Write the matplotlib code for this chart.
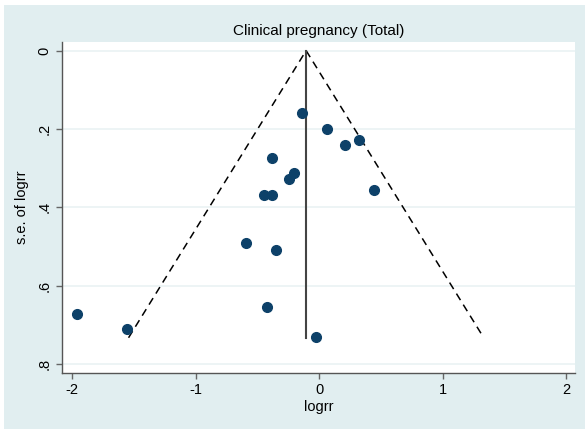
import matplotlib.pyplot as plt
from matplotlib.patches import Rectangle

plt.rcParams['font.family'] = ['Liberation Sans', 'DejaVu Sans']

# study estimates
logrr = [-1.96, -1.555, -0.138, 0.065, 0.326, 0.213, 0.443, -0.38,
         -0.205, -0.24, -0.443, -0.38, -0.591, -0.348, -0.424, -0.024]
se_logrr = [0.673, 0.711, 0.160, 0.199, 0.227, 0.240, 0.357, 0.273,
            0.312, 0.327, 0.369, 0.369, 0.491, 0.508, 0.654, 0.732]

# pooled estimate and the largest s.e. (top/bottom of the funnel)
pooled = -0.105
se_max = 0.733

x_ticks = [-2, -1, 0, 1, 2]
x_ticklabels = ["-2", "-1", "0", "1", "2"]
y_ticks = [0, 0.2, 0.4, 0.6, 0.8]
y_ticklabels = ["0", ".2", ".4", ".6", ".8"]

bg = "#e1eef0"
navy = "#0d4169"

fig = plt.figure(figsize=(5.85, 4.29), dpi=100, facecolor="white")
# Stata-style background panel (small white margin top/left)
fig.patches.append(Rectangle((4 / 585, 0), 1, 1 - 5 / 429, transform=fig.transFigure,
                             facecolor=bg, edgecolor="none", zorder=-10))

ax = fig.add_axes([62 / 585, 1 - 373 / 429, (575 - 62) / 585, (373 - 42) / 429])
ax.set_facecolor("white")

# funnel: pseudo 95% limits and pooled line
ax.plot([pooled - 1.96 * se_max, pooled, pooled + 1.96 * se_max], [se_max, 0, se_max],
        color="black", linestyle=(0, (5, 3.5)), linewidth=1.1)
ax.plot([pooled, pooled], [0, se_max], color="#444444", linewidth=1.5)

ax.plot(logrr, se_logrr, "o", color=navy, markersize=7, linestyle="none", zorder=3)

ax.set_xlim(-2.08, 2.07)
ax.set_ylim(0.823, -0.022)

ax.set_xticks(x_ticks)
ax.set_xticklabels(x_ticklabels, fontsize=10.5)
ax.set_yticks(y_ticks)
ax.set_yticklabels(y_ticklabels, fontsize=10.5, rotation=90, va="center")

ax.grid(axis="y", color="#eaf2f3", linewidth=1.2)
ax.set_axisbelow(True)

for s in ["top", "right"]:
    ax.spines[s].set_visible(False)
for s in ["left", "bottom"]:
    ax.spines[s].set_color("#555555")
    ax.spines[s].set_linewidth(1.0)
ax.tick_params(direction="out", length=4.5, color="#666666", width=1.0, pad=3)

ax.set_title("Clinical pregnancy (Total)", fontsize=11, pad=5)
ax.set_xlabel("logrr", fontsize=10.5, labelpad=2)
ax.set_ylabel("s.e. of logrr", fontsize=10.5, labelpad=6)

fig.savefig("out.png", dpi=100, facecolor=fig.get_facecolor())
